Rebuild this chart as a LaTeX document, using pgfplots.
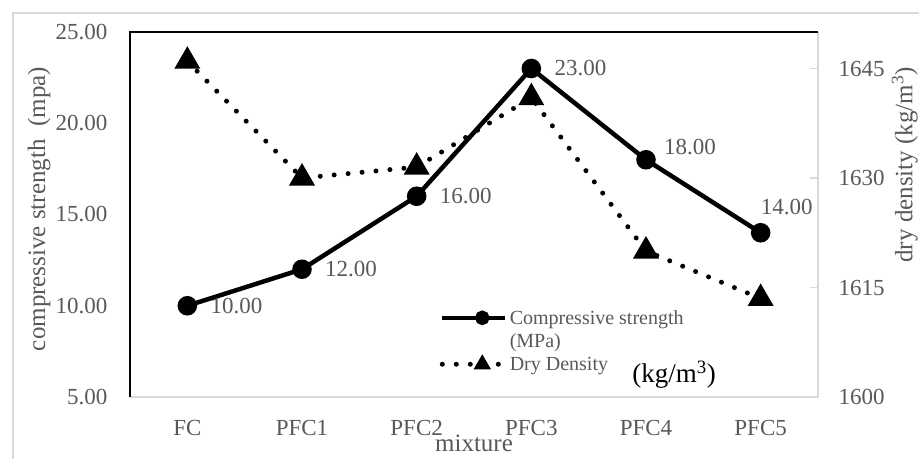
\documentclass[border=0pt]{standalone}
\usepackage{pgfplots}
\pgfplotsset{compat=1.18}
\usepackage{fontspec}
\setmainfont{Liberation Serif}
\definecolor{txt}{HTML}{595959}
\definecolor{frame}{HTML}{D9D9D9}

% compressive strength (MPa)
\pgfplotstableread{
x  cs
0  10
1  12
2  16
3  23
4  18
5  14
}\strength
% dry density (kg/m3)
\pgfplotstableread{
x  dd
0  1646
1  1630
2  1631.5
3  1641
4  1620
5  1613.5
}\density

\pgfplotsset{
  base/.style={
    at={(130pt,62pt)}, anchor=south west,
    scale only axis, width=688pt, height=365pt,
    xmin=-0.5, xmax=5.5, clip=false,
    axis line style={draw=none},
    /pgf/number format/assume math mode=true,
    tick label style={font=\fontsize{23}{27}\selectfont, text=txt},
    label style={font=\fontsize{25}{29}\selectfont, text=txt},
  },
  csline/.style={black, line width=4.5pt, mark=*, mark size=7.5pt, mark options={solid}},
  ddline/.style={black, line width=5pt, line cap=round, dash pattern=on 0pt off 14pt,
    mark=triangle*, mark size=10pt, mark options={solid}},
  lbl/.style={draw=none, mark=none, nodes near coords={\pgfmathprintnumber[fixed,fixed zerofill,precision=2]{\pgfplotspointmeta}},
    nodes near coords style={font=\fontsize{23}{27}\selectfont, text=txt, inner sep=0pt, anchor=west}},
}

\begin{document}
\begin{tikzpicture}[x=1pt,y=1pt]
\useasboundingbox (0,0) rectangle (919,459);
\fill[white] (0,0) rectangle (919,459);
\draw[frame, line width=1.3pt] (13,0) -- (13,446) -- (919,446);

\begin{axis}[base,
  ymin=5, ymax=25, ytick={5,10,15,20,25},
  xtick={0,...,5}, xticklabels={FC,PFC1,PFC2,PFC3,PFC4,PFC5},
  major tick length=0pt,
  xticklabel shift=20pt, yticklabel shift=19pt,
  yticklabel style={/pgf/number format/fixed, /pgf/number format/fixed zerofill, /pgf/number format/precision=2},
  xlabel={mixture}, ylabel={compressive strength\ \ (mpa)},
  xlabel style={at={(axis description cs:0.5,-0.128)}, anchor=center},
  ylabel style={at={(axis description cs:-0.132,0.515)}, anchor=center},
]
\draw[frame, line width=1.5pt] (rel axis cs:0,0) -- (rel axis cs:1,0) -- (rel axis cs:1,1);
\draw[black, line width=1.5pt] (rel axis cs:0,0) -- (rel axis cs:0,1) -- (rel axis cs:1,1);
\addplot[csline] table[x=x, y=cs] {\strength};
\addplot[lbl, nodes near coords style={xshift=23pt}] coordinates {(0,10) (1,12) (2,16) (3,23)};
\addplot[lbl, nodes near coords style={xshift=18pt, yshift=13pt}] coordinates {(4,18)};
\addplot[lbl, nodes near coords style={xshift=0pt, yshift=26pt}] coordinates {(5,14)};
\node[font=\fontsize{27}{31}\selectfont, text=black, inner sep=0pt]
  at (axis description cs:0.791,0.06) {(kg/m\textsuperscript{3})};
\end{axis}

\begin{axis}[base,
  ymin=1600, ymax=1650, ytick={1600,1615,1630,1645},
  hide x axis,
  ytick pos=right, yticklabel pos=right,
  tick align=inside, major tick length=8pt,
  ytick style={frame, line width=1.2pt},
  yticklabel shift=17pt,
  yticklabel style={/pgf/number format/fixed, /pgf/number format/1000 sep={}},
  ylabel={dry density (kg/m\textsuperscript{3})},
  ylabel style={at={(axis description cs:1.126,0.636)}, anchor=center, rotate=0},
  legend style={at={(axis description cs:0.45,0.244)}, anchor=north west, draw=none, fill=none,
    font=\fontsize{20}{23}\selectfont, text=txt, inner sep=0pt,
    row sep=4pt, cells={anchor=west}},
  legend image code/.code={\draw[mark repeat=2, mark phase=2, #1, mark size=5pt]
    plot coordinates {(0pt,0pt) (40pt,0pt) (63pt,0pt)};},
]
\addlegendimage{csline}
\addlegendentry{Compressive strength}
\addlegendimage{empty legend}
\addlegendentry{(MPa)}
\addplot[ddline] table[x=x, y=dd] {\density};
\addlegendentry{Dry Density}
\end{axis}
\end{tikzpicture}
\end{document}
